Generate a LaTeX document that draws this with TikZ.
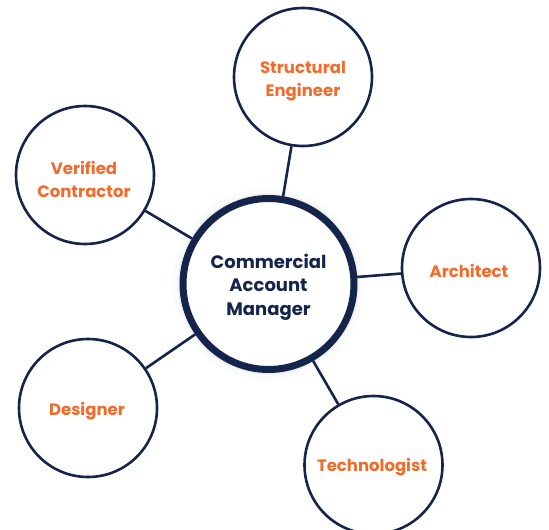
\documentclass[tikz,border=0pt]{standalone}
\usepackage{fontspec}
\setmainfont{Poppins}
\definecolor{navy}{HTML}{14244A}
\definecolor{accent}{HTML}{F26B2A}
\begin{document}
\begin{tikzpicture}[x=1pt,y=-1pt,
  role/.style={circle,draw=navy,line width=2.6pt,fill=white,minimum size=138pt,inner sep=0pt},
  roletext/.style={align=center,text=accent,inner sep=0pt,font=\fontsize{16.5}{23}\selectfont\bfseries},
  hub/.style={circle,draw=navy,line width=7pt,fill=white,minimum size=171pt,inner sep=0pt},
  hubtext/.style={align=center,text=navy,inner sep=0pt,font=\fontsize{18}{23.5}\selectfont\bfseries},
  link/.style={draw=navy,line width=2.6pt}]
\useasboundingbox (0,0) rectangle (549,530);
\clip (0,0) rectangle (549,530);
\fill[navy!4] (268.5,284) circle (93);
\fill[navy!2] (268.5,284) circle (96);
\fill[navy!6] (268.5,284) circle (91);
\node[hub] (cam) at (268.5,284) {};
\node[hubtext] (camt) at (268.5,287) {Commercial\\Account\\Manager};
\node[role] (se) at (303,77) {};
\node[role] (vc) at (85,175) {};
\node[role] (ar) at (471,268) {};
\node[role] (de) at (88,408) {};
\node[role] (te) at (373.5,465) {};
\node[roletext] (set) at (303,81) {Structural\\Engineer};
\node[roletext] (vct) at (84,179) {Verified\\Contractor};
\node[roletext] (art) at (469,271) {Architect};
\node[roletext] (det) at (87,411) {Designer};
\node[roletext] (tet) at (372,467) {Technologist};
\draw[link] (se) -- (cam);
\draw[link] (vc) -- (cam);
\draw[link] (ar) -- (cam);
\draw[link] (de) -- (cam);
\draw[link] (te) -- (cam);
\end{tikzpicture}
\end{document}
